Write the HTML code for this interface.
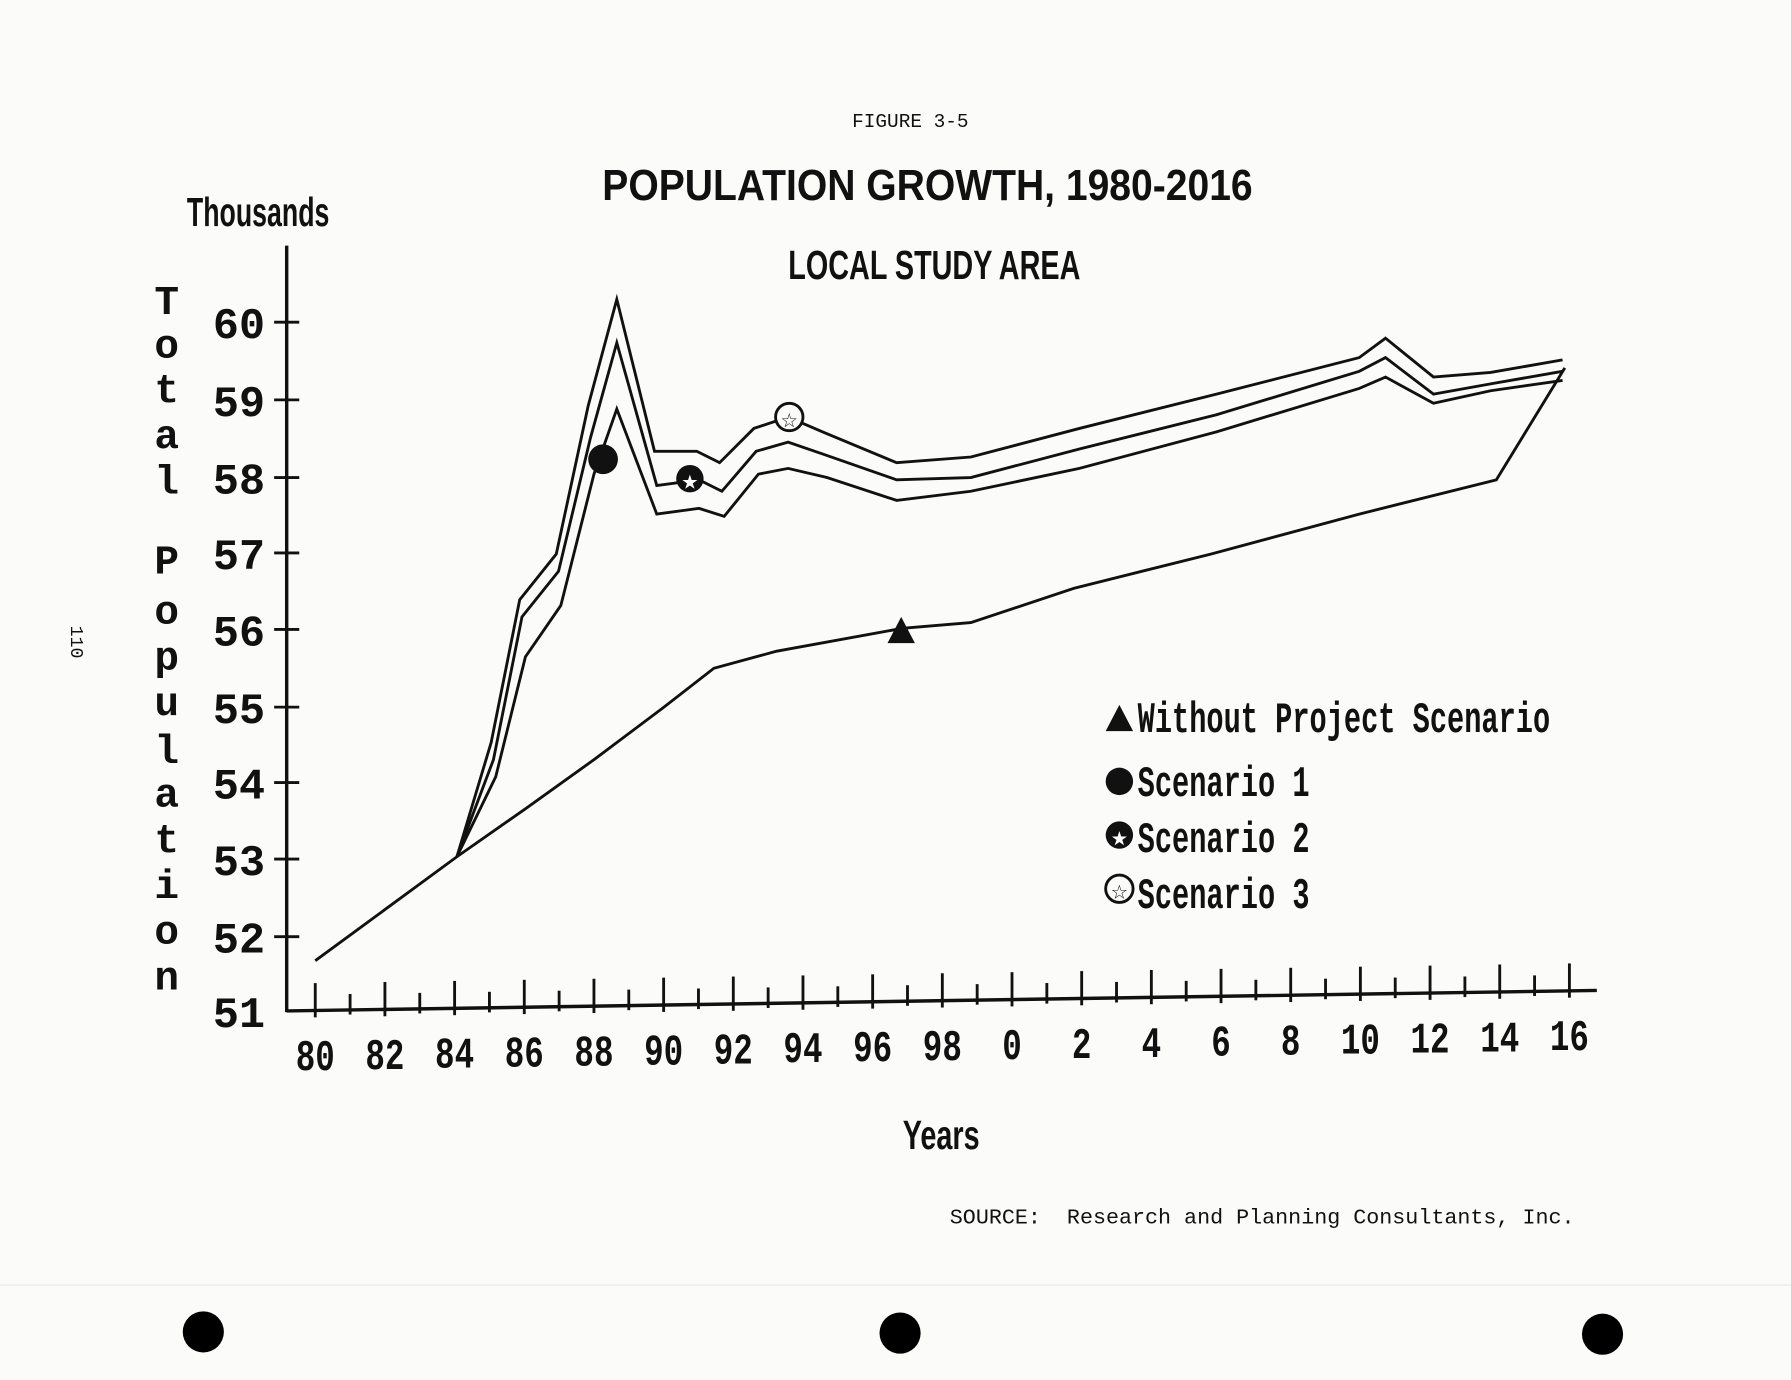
<!DOCTYPE html>
<html><head><style>
html,body{margin:0;padding:0;background:#fbfbfa;}
svg{display:block}
text{font-family:"Liberation Mono",monospace;fill:#111}
.t{font-family:"Liberation Sans Narrow","Liberation Sans",sans-serif;font-weight:bold}
</style></head><body>
<svg width="1791" height="1380" viewBox="0 0 1568 1208" xmlns="http://www.w3.org/2000/svg">
<rect width="1568" height="1208" fill="#fbfbfa"/>
<text x="797" y="111" font-size="17" text-anchor="middle">FIGURE 3-5</text>
<text class="t" x="812" y="175" font-size="38" text-anchor="middle" transform="translate(812 0) scale(0.9 1) translate(-812 0)">POPULATION GROWTH, 1980-2016</text>
<text class="t" x="818" y="244" font-size="36" text-anchor="middle" transform="translate(818 0) scale(0.7 1) translate(-818 0)">LOCAL STUDY AREA</text>
<text class="t" x="226" y="198" font-size="36" text-anchor="middle" font-weight="normal" transform="translate(226 0) scale(0.65 1) translate(-226 0)">Thousands</text>
<g class="t" font-size="36" text-anchor="middle">
<text x="146" y="275">T</text><text x="146" y="313">o</text><text x="146" y="352">t</text><text x="146" y="392">a</text><text x="146" y="432">l</text>
<text x="146" y="502">P</text><text x="146" y="546">o</text><text x="146" y="586">p</text><text x="146" y="626">u</text><text x="146" y="668">l</text><text x="146" y="706">a</text><text x="146" y="746">t</text><text x="146" y="786">i</text><text x="146" y="826">o</text><text x="146" y="866">n</text>
</g>
<text x="62" y="562" font-size="16" transform="rotate(90 62 562)" text-anchor="middle">110</text>
<g stroke="#111" stroke-width="3" fill="none">
<line x1="251" y1="215" x2="251" y2="886"/>
<line x1="251" y1="885" x2="1398" y2="867"/>
</g>
<g stroke="#111" stroke-width="2.5">
<line x1="240" y1="282" x2="262" y2="282"/><line x1="240" y1="350" x2="262" y2="350"/><line x1="240" y1="418" x2="262" y2="418"/><line x1="240" y1="484" x2="262" y2="484"/><line x1="240" y1="551" x2="262" y2="551"/><line x1="240" y1="619" x2="262" y2="619"/><line x1="240" y1="685" x2="262" y2="685"/><line x1="240" y1="752" x2="262" y2="752"/><line x1="240" y1="820" x2="262" y2="820"/>
</g>
<g class="t" font-size="38" text-anchor="end" font-weight="normal">
<text x="232" y="296">60</text><text x="232" y="364">59</text><text x="232" y="432">58</text><text x="232" y="498">57</text><text x="232" y="565">56</text><text x="232" y="633">55</text><text x="232" y="699">54</text><text x="232" y="766">53</text><text x="232" y="834">52</text><text x="232" y="899">51</text>
</g>
<g id="xt" stroke="#111" stroke-width="2.5"></g>
<g class="t" font-size="38" text-anchor="middle" font-weight="normal" id="xl"></g>
<text class="t" x="824" y="1006" font-size="36" text-anchor="middle" font-weight="normal" transform="translate(824 0) scale(0.7 1) translate(-824 0)">Years</text>
<g fill="none" stroke="#111" stroke-width="2.5">
<polyline points="276,841 400,750 460,708 520,665 580,620 625,585 680,570 790,550 850,545 940,515 1060,485 1190,450 1310,420 1370,322"/>
<polyline points="400,750 430,650 455,525 487,485 515,355 540,262 573,395 610,395 630,405 660,375 690,365 720,378 785,405 850,400 945,375 1065,345 1190,313 1213,296 1255,330 1305,326 1368,315"/>
<polyline points="400,750 432,665 457,540 489,500 517,383 540,300 575,425 612,420 632,430 662,395 690,387 722,398 785,420 850,418 945,393 1065,363 1190,325 1213,313 1255,345 1305,336 1368,325"/>
<polyline points="400,750 434,680 460,575 491,530 520,415 540,358 575,450 612,445 634,452 664,415 690,410 724,418 785,438 850,430 945,410 1065,378 1190,340 1213,330 1255,353 1305,342 1368,333"/>
</g>
<circle cx="528" cy="402" r="13" fill="#111"/>
<circle cx="604" cy="419" r="12" fill="#111"/><text x="604" y="428" font-size="24" text-anchor="middle" style="fill:#fff">★</text>
<circle cx="691" cy="365" r="12" fill="#fbfbfa" stroke="#111" stroke-width="2.5"/><text x="691" y="374" font-size="24" text-anchor="middle">☆</text>
<polygon points="789,540 801,563 777,563" fill="#111"/>
<polygon points="980,617 992,640 968,640" fill="#111"/>
<circle cx="980" cy="684" r="12" fill="#111"/>
<circle cx="980" cy="731" r="12" fill="#111"/><text x="980" y="740" font-size="24" text-anchor="middle" style="fill:#fff">★</text>
<circle cx="980" cy="778" r="12" fill="none" stroke="#111" stroke-width="2.5"/><text x="980" y="787" font-size="24" text-anchor="middle">☆</text>
<g class="t" font-size="38" font-weight="normal">
<text x="996" y="641" transform="translate(996 0) scale(0.66 1) translate(-996 0)">Without Project Scenario</text>
<text x="996" y="697" transform="translate(996 0) scale(0.66 1) translate(-996 0)">Scenario 1</text>
<text x="996" y="746" transform="translate(996 0) scale(0.66 1) translate(-996 0)">Scenario 2</text>
<text x="996" y="795" transform="translate(996 0) scale(0.66 1) translate(-996 0)">Scenario 3</text>
</g>
<text x="1105" y="1071" font-size="19" text-anchor="middle" xml:space="preserve">SOURCE:  Research and Planning Consultants, Inc.</text>
<line x1="0" y1="1125" x2="1568" y2="1125" stroke="#e6e6e6" stroke-width="1"/>
<circle cx="178" cy="1166" r="18" fill="#000"/>
<circle cx="788" cy="1167" r="18" fill="#000"/>
<circle cx="1403" cy="1168" r="18" fill="#000"/>
<script>
var ns="http://www.w3.org/2000/svg",xt=document.getElementById("xt"),xl=document.getElementById("xl");
for(var i=0;i<=36;i++){var x=276+i*30.5,yb=885-(x-251)*18/1147;
var l=document.createElementNS(ns,"line");var big=i%2==0;
l.setAttribute("x1",x);l.setAttribute("x2",x);l.setAttribute("y1",yb-(big?24:14));l.setAttribute("y2",yb+(big?6:4));xt.appendChild(l);
if(big){var t=document.createElementNS(ns,"text");t.setAttribute("x",x);t.setAttribute("y",yb+52);
t.setAttribute("transform","translate("+x+" 0) scale(0.75 1) translate("+(-x)+" 0)");
var yr=(80+i)%100;t.textContent=yr;xl.appendChild(t);}}
</script>
</svg>
</body></html>
